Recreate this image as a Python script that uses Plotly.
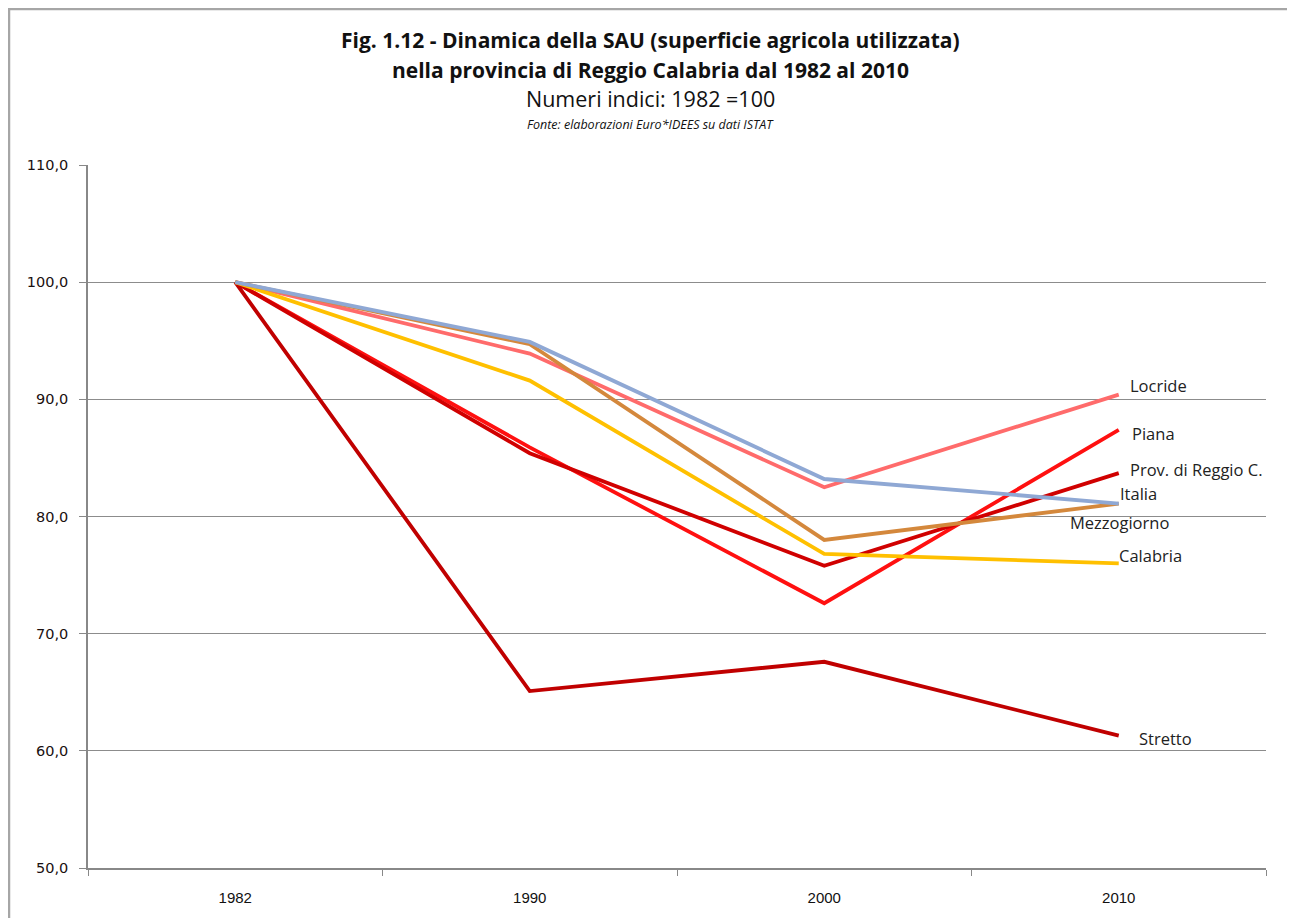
import plotly.graph_objects as go

years = ["1982", "1990", "2000", "2010"]
locride = [100.0, 93.9, 82.5, 90.4]
piana = [100.0, 85.9, 72.6, 87.4]
prov_reggio = [100.0, 85.4, 75.8, 83.7]
stretto = [100.0, 65.1, 67.6, 61.3]
calabria = [100.0, 91.6, 76.8, 76.0]
mezzogiorno = [100.0, 94.7, 78.0, 81.1]
italia = [100.0, 94.9, 83.2, 81.1]

series = [
    ("Locride", locride, "#FF6B6B"),
    ("Piana", piana, "#FF1010"),
    ("Prov. di Reggio C.", prov_reggio, "#D00000"),
    ("Stretto", stretto, "#C00000"),
    ("Calabria", calabria, "#FFC000"),
    ("Mezzogiorno", mezzogiorno, "#D4883C"),
    ("Italia", italia, "#8FA8D4"),
]
# label offsets (pixels) relative to last point
label_offsets = {
    "Locride": (9, 9),
    "Piana": (11, -4),
    "Prov. di Reggio C.": (9, 4),
    "Italia": (-1, 10),
    "Mezzogiorno": (-51, -19),
    "Calabria": (-2, 8),
    "Stretto": (18, -3),
}

xpos = list(range(len(years)))
fig = go.Figure()
for name, vals, col in series:
    fig.add_trace(go.Scatter(x=xpos, y=vals, mode="lines", name=name,
                             line=dict(color=col, width=3.8), showlegend=False,
                             hoverinfo="y"))

label_font = dict(family="Open Sans, Liberation Sans, sans-serif", size=16.5, color="#222222")
for name, vals, col in series:
    dx, dy = label_offsets[name]
    fig.add_annotation(x=xpos[-1], y=vals[-1], xref="x", yref="y", text=name,
                       showarrow=False, xanchor="left", yanchor="middle",
                       xshift=dx, yshift=dy, font=label_font)

# page offset (body margin) compensation
OX, OY = 8, 8
W, H = 1295, 918
L = 88 - OX
T = 165 - OY
R = W - (1266 - OX)
B = H - (868 - OY)
pw, ph = W - L - R, H - T - B

def px(xpage):
    return (xpage - OX - L) / pw

def py(ypage):
    return (H - B - (ypage - OY)) / ph

cx = px(650)
title_lines = [
    ("<b>Fig. 1.12 - Dinamica della SAU (superficie agricola utilizzata)</b>", 40, 21),
    ("<b>nella provincia di Reggio Calabria dal 1982 al 2010</b>", 70, 21),
    ("Numeri indici: 1982 =100", 98, 21.5),
    ("<i>Fonte: elaborazioni Euro*IDEES su dati ISTAT</i>", 124, 12.5),
]
for txt, yp, size in title_lines:
    fig.add_annotation(x=cx, y=py(yp), xref="paper", yref="paper", text=txt,
                       showarrow=False, xanchor="center", yanchor="middle",
                       font=dict(family="Open Sans, Liberation Sans, sans-serif",
                                 size=size, color="#111111"))

# outer chart border
fig.add_shape(type="rect", xref="paper", yref="paper",
              x0=px(9), x1=px(1289), y0=py(930), y1=py(9),
              line=dict(color="#A6A6A6", width=2.5), fillcolor="rgba(0,0,0,0)", layer="below")

fig.update_layout(
    width=W, height=H,
    margin=dict(l=L, r=R, t=T, b=B, autoexpand=False),
    paper_bgcolor="white", plot_bgcolor="white",
    separators=",.",
    xaxis=dict(range=[-0.5, len(years) - 0.5], tickmode="array", tickvals=xpos,
               ticktext=years, ticks="", showgrid=False, zeroline=False,
               showline=True, linecolor="#888888", linewidth=1.5,
               tickfont=dict(family="Liberation Sans Narrow, Liberation Sans, sans-serif", size=15, color="#111111"),
               ticklabelstandoff=15,
               minor=dict(tick0=-0.5, dtick=1, ticks="outside", ticklen=6,
                          tickcolor="#888888", showgrid=False),
               fixedrange=True),
    yaxis=dict(range=[50, 110], dtick=10, tick0=50, tickformat=".1f",
               showgrid=True, gridcolor="#8C8C8C", gridwidth=1,
               showline=True, linecolor="#888888", linewidth=1.5,
               ticks="outside", ticklen=7, tickcolor="#888888", zeroline=False,
               tickfont=dict(family="DejaVu Sans, Verdana, sans-serif", size=14.5, color="#1A1010"),
               ticklabelstandoff=8, fixedrange=True),
)

fig.write_html("out.html")
